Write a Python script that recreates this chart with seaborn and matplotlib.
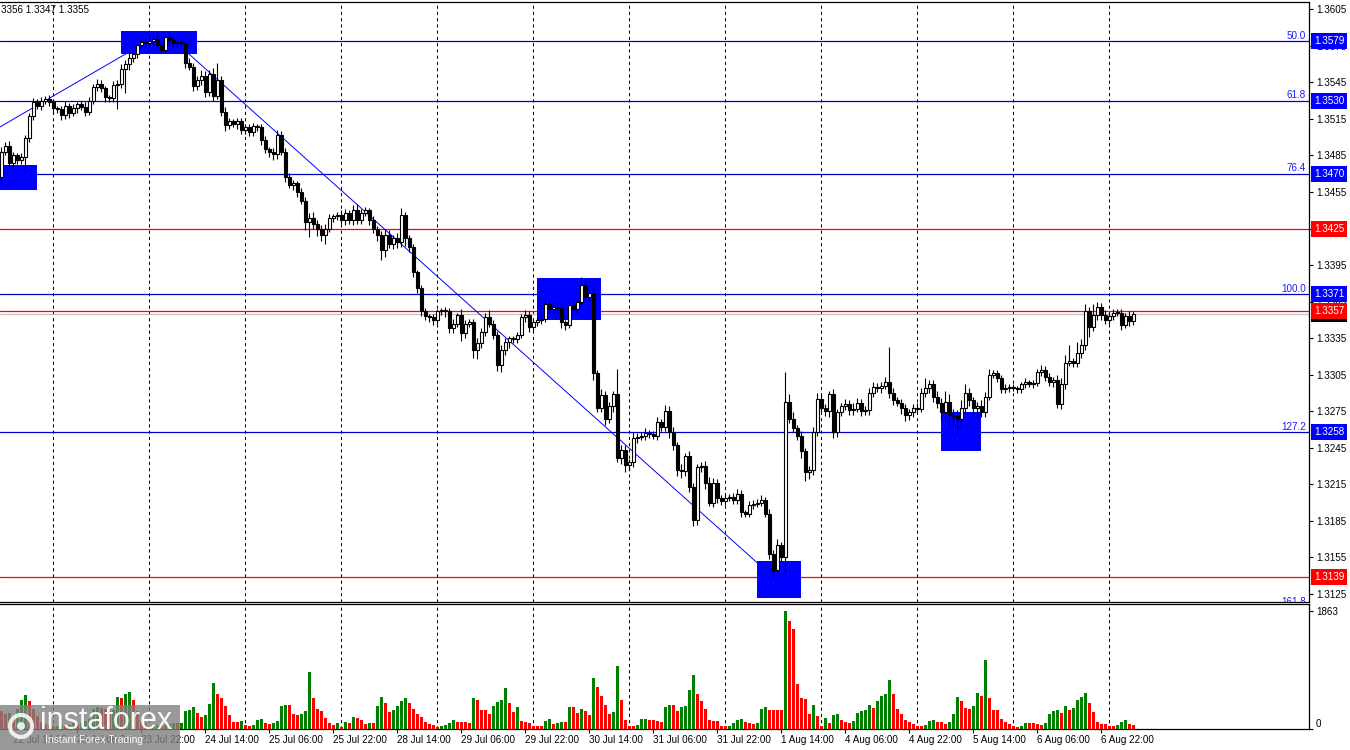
import numpy as np
import pandas as pd
import seaborn as sns
import matplotlib
matplotlib.use("Agg")
import matplotlib.pyplot as plt
from matplotlib.patches import Rectangle, Circle
from matplotlib.transforms import IdentityTransform

# === GBPUSD H1 candles ===
first_open = 1.3467
closes = [
    1.3488, 1.3493, 1.3479, 1.3485, 1.3481, 1.3484, 1.3499, 1.3517, 1.3529, 1.3526, 1.3530, 1.3531,
    1.3529, 1.3524, 1.3523, 1.3518, 1.3526, 1.3520, 1.3524, 1.3527, 1.3525, 1.3521, 1.3530, 1.3541,
    1.3544, 1.3540, 1.3533, 1.3532, 1.3543, 1.3544, 1.3556, 1.3560, 1.3565, 1.3568, 1.3576, 1.3578,
    1.3577, 1.3579, 1.3581, 1.3576, 1.3572, 1.3582, 1.3580, 1.3577, 1.3578, 1.3577, 1.3561, 1.3558,
    1.3542, 1.3547, 1.3550, 1.3537, 1.3552, 1.3534, 1.3547, 1.3521, 1.3510, 1.3513, 1.3511, 1.3513,
    1.3506, 1.3508, 1.3504, 1.3509, 1.3508, 1.3498, 1.3490, 1.3488, 1.3486, 1.3502, 1.3488, 1.3467,
    1.3461, 1.3462, 1.3455, 1.3448, 1.3430, 1.3434, 1.3429, 1.3425, 1.3420, 1.3425, 1.3434, 1.3435,
    1.3436, 1.3432, 1.3438, 1.3432, 1.3440, 1.3432, 1.3438, 1.3440, 1.3432, 1.3425, 1.3420, 1.3407,
    1.3420, 1.3412, 1.3417, 1.3414, 1.3436, 1.3417, 1.3410, 1.3389, 1.3376, 1.3357, 1.3353, 1.3352,
    1.3350, 1.3357, 1.3358, 1.3357, 1.3343, 1.3347, 1.3354, 1.3339, 1.3347, 1.3348, 1.3325, 1.3331,
    1.3340, 1.3352, 1.3347, 1.3338, 1.3313, 1.3325, 1.3332, 1.3335, 1.3334, 1.3338, 1.3352, 1.3354,
    1.3344, 1.3348, 1.3350, 1.3351, 1.3363, 1.3359, 1.3361, 1.3360, 1.3348, 1.3346, 1.3362, 1.3359,
    1.3365, 1.3379, 1.3369, 1.3372, 1.3306, 1.3278, 1.3288, 1.3269, 1.3279, 1.3289, 1.3237, 1.3243,
    1.3231, 1.3233, 1.3253, 1.3254, 1.3255, 1.3257, 1.3256, 1.3255, 1.3266, 1.3262, 1.3275, 1.3258,
    1.3247, 1.3227, 1.3226, 1.3238, 1.3213, 1.3186, 1.3229, 1.3230, 1.3216, 1.3200, 1.3216, 1.3204,
    1.3201, 1.3204, 1.3205, 1.3202, 1.3207, 1.3192, 1.3191, 1.3198, 1.3199, 1.3200, 1.3202, 1.3191,
    1.3158, 1.3145, 1.3165, 1.3155, 1.3283, 1.3269, 1.3261, 1.3255, 1.3242, 1.3225, 1.3227, 1.3258,
    1.3285, 1.3278, 1.3275, 1.3289, 1.3258, 1.3274, 1.3279, 1.3281, 1.3276, 1.3277, 1.3282, 1.3275,
    1.3276, 1.3290, 1.3295, 1.3294, 1.3296, 1.3299, 1.3290, 1.3284, 1.3282, 1.3278, 1.3272, 1.3274,
    1.3278, 1.3277, 1.3290, 1.3294, 1.3297, 1.3287, 1.3282, 1.3274, 1.3283, 1.3272, 1.3271, 1.3269,
    1.3278, 1.3290, 1.3284, 1.3278, 1.3279, 1.3274, 1.3287, 1.3305, 1.3306, 1.3302, 1.3293, 1.3294,
    1.3295, 1.3294, 1.3293, 1.3297, 1.3299, 1.3297, 1.3298, 1.3307, 1.3309, 1.3303, 1.3299, 1.3301,
    1.3281, 1.3297, 1.3315, 1.3316, 1.3315, 1.3323, 1.3329, 1.3357, 1.3344, 1.3354, 1.3361, 1.3354,
    1.3350, 1.3353, 1.3356, 1.3356, 1.3346, 1.3353, 1.3349, 1.3355,
]
# wick lengths in pips above / below the candle body
wick_up = [
    4, 3, 4, 3, 2, 3, 3, 3, 3, 2, 3, 3,   4, 2, 2, 3, 4, 2, 3, 2, 3, 4, 3, 3,
    4, 3, 2, 2, 3, 3, 4, 3, 5, 3, 4, 3,   3, 4, 3, 5, 2, 3, 4, 2, 2, 3, 2, 4,
    3, 3, 5, 4, 3, 5, 14, 3, 4, 3, 2, 3,  3, 2, 3, 3, 2, 3, 3, 2, 3, 4, 3, 3,
    4, 3, 2, 3, 3, 4, 5, 3, 3, 4, 3, 2,   3, 4, 3, 2, 4, 5, 3, 3, 2, 3, 2, 3,
    5, 4, 3, 4, 6, 3, 3, 2, 2, 3, 3, 2,   3, 2, 2, 3, 3, 4, 2, 5, 3, 3, 3, 4,
    3, 4, 6, 3, 3, 4, 3, 2, 2, 2, 3, 4,   3, 2, 2, 3, 4, 3, 3, 4, 2, 2, 4, 4,
    3, 6, 4, 3, 4, 3, 5, 4, 4, 3, 21, 4,  4, 3, 5, 3, 3, 4, 3, 3, 4, 3, 5, 4,
    4, 3, 5, 3, 4, 3, 3, 3, 4, 5, 4, 3,   2, 3, 2, 3, 4, 3, 2, 3, 3, 3, 4, 3,
    4, 3, 5, 3, 24, 6, 5, 3, 4, 3, 3, 4,  5, 4, 3, 3, 4, 3, 3, 4, 3, 5, 4, 3,
    3, 4, 4, 3, 3, 4, 29, 4, 3, 3, 3, 3,  3, 4, 4, 8, 4, 4, 5, 4, 9, 6, 5, 5,
    6, 7, 4, 3, 4, 5, 4, 5, 3, 3, 3, 3,   2, 2, 2, 2, 3, 2, 3, 3, 4, 3, 3, 2,
    4, 5, 6, 13, 3, 9, 5, 6, 4, 9, 4, 3,  4, 3, 3, 3, 3, 3, 4, 2,
]
wick_dn = [
    5, 3, 4, 4, 3, 3, 12, 3, 3, 3, 4, 3,  3, 4, 3, 4, 3, 4, 3, 4, 3, 4, 3, 3,
    3, 3, 4, 3, 3, 20, 4, 20, 5, 3, 3, 3, 3, 3, 4, 3, 3, 3, 4, 3, 3, 2, 4, 3,
    4, 3, 4, 4, 3, 4, 3, 4, 5, 3, 3, 4,   3, 3, 3, 3, 3, 4, 3, 4, 5, 4, 3, 4,
    3, 4, 4, 3, 6, 12, 4, 6, 5, 8, 3, 4,  3, 3, 4, 3, 4, 3, 3, 3, 4, 4, 5, 8,
    5, 3, 4, 5, 4, 6, 4, 4, 4, 4, 3, 4,   4, 3, 3, 5, 4, 4, 3, 6, 4, 3, 6, 7,
    4, 3, 3, 4, 5, 6, 4, 5, 3, 3, 3, 4,   4, 3, 3, 3, 3, 4, 3, 4, 5, 4, 3, 4,
    3, 3, 3, 3, 5, 4, 4, 5, 4, 5, 4, 5,   6, 4, 4, 4, 3, 4, 3, 3, 4, 3, 3, 5,
    4, 5, 6, 4, 4, 5, 4, 4, 5, 3, 4, 4,   3, 3, 3, 3, 3, 4, 3, 3, 3, 3, 3, 3,
    4, 6, 4, 4, 12, 4, 3, 4, 5, 7, 6, 4,  3, 4, 4, 5, 5, 4, 3, 3, 4, 4, 3, 4,
    3, 4, 3, 3, 4, 3, 4, 4, 3, 5, 5, 4,   4, 3, 3, 3, 4, 4, 4, 6, 6, 10, 8, 12,
    7, 5, 5, 7, 9, 4, 4, 3, 3, 3, 3, 3,   3, 2, 3, 3, 3, 2, 3, 2, 3, 3, 3, 4,
    3, 4, 4, 3, 4, 4, 4, 4, 8, 3, 4, 4,   3, 3, 3, 3, 4, 3, 4, 3,
]
volumes = [
    290, 230, 250, 210, 320, 460, 530, 450, 320, 210, 106, 80,
    60, 40, 50, 60, 55, 70, 90, 80, 100, 120, 160, 320,
    340, 330, 320, 280, 300, 500, 488, 556, 578, 460, 290, 130,
    100, 40, 53, 64, 60, 70, 85, 90, 88, 95, 290, 307,
    340, 250, 185, 228, 392, 720, 546, 482, 371, 228, 117, 110,
    122, 64, 53, 69, 143, 164, 100, 74, 100, 132, 371, 382,
    380, 244, 222, 244, 291, 896, 482, 323, 286, 180, 95, 69,
    95, 37, 117, 100, 196, 180, 148, 85, 100, 100, 371, 498,
    403, 276, 307, 371, 450, 482, 403, 323, 244, 196, 117, 85,
    69, 37, 53, 69, 100, 148, 117, 117, 115, 100, 482, 466,
    307, 305, 244, 371, 419, 466, 641, 403, 276, 355, 133, 117,
    100, 53, 53, 50, 132, 164, 80, 100, 117, 117, 340, 340,
    260, 323, 290, 228, 800, 657, 514, 387, 244, 276, 991, 466,
    148, 53, 48, 64, 164, 165, 148, 148, 132, 117, 355, 387,
    385, 291, 355, 371, 610, 848, 546, 435, 323, 148, 132, 130,
    53, 45, 53, 100, 148, 164, 117, 100, 85, 100, 323, 355,
    307, 305, 303, 300, 1863, 1707, 1579, 705, 482, 472, 244, 387,
    212, 53, 180, 100, 228, 230, 148, 117, 100, 132, 260, 291,
    307, 387, 339, 435, 514, 546, 768, 546, 323, 244, 148, 117,
    85, 53, 50, 69, 132, 148, 117, 115, 85, 117, 244, 498,
    450, 339, 323, 371, 562, 514, 1087, 482, 307, 305, 164, 117,
    85, 53, 37, 53, 100, 100, 98, 85, 69, 100, 244, 291,
    307, 260, 371, 307, 339, 466, 498, 562, 403, 276, 117, 85,
    83, 53, 50, 69, 117, 148, 85, 69,
]

# === Levels and objects drawn on the chart ===
fib_names = ["50.0", "61.8", "76.4", "100.0", "127.2", "161.8"]
fib_prices = [1.3579, 1.3530, 1.3470, 1.3371, 1.3258, 1.3114]
red_prices = [1.3425, 1.3357, 1.3139]
bid_price = 1.3355
price_ticks = [1.3605, 1.3575, 1.3545, 1.3515, 1.3485, 1.3455, 1.3425, 1.3395, 1.3365,
               1.3335, 1.3305, 1.3275, 1.3245, 1.3215, 1.3185, 1.3155, 1.3125]
vol_ticks = [0, 1863]
x_labels = ["22 Jul 14:00", "23 Jul 06:00", "23 Jul 22:00", "24 Jul 14:00", "25 Jul 06:00",
            "25 Jul 22:00", "28 Jul 14:00", "29 Jul 06:00", "29 Jul 22:00", "30 Jul 14:00",
            "31 Jul 06:00", "31 Jul 22:00", "1 Aug 14:00", "4 Aug 06:00", "4 Aug 22:00",
            "5 Aug 14:00", "6 Aug 06:00", "6 Aug 22:00"]
header = "3356 1.3347 1.3355"

# blue rectangles: first bar, last bar, top price, bottom price
box_start = [-1, 30, 134, 189, 235]
box_end = [9, 49, 150, 200, 245]
box_top = [1.3477, 1.3587, 1.3384, 1.3152, 1.3274]
box_bottom = [1.3457, 1.3568, 1.3350, 1.3122, 1.3242]

# thin trend lines (bar, price) pairs
trend_bars = [[-1, 31.5], [46.75, 193]]
trend_prices = [[1.3507, 1.3569], [1.3569, 1.3139]]

# === Derived series ===
times = pd.date_range("2025-07-22 11:00", "2025-08-07 06:00", freq="h")
times = times[times.dayofweek < 5]
n = len(closes)
bars = np.arange(n)
c = np.array(closes)
o = np.r_[first_open, c[:-1]]
body_top = np.maximum(o, c)
body_bot = np.minimum(o, c)
hi = body_top + np.array(wick_up) * 1e-4
lo = body_bot - np.array(wick_dn) * 1e-4

vol = np.array(volumes)
vol_dir = np.where(np.r_[False, vol[1:] > vol[:-1]], "up", "down")
vol_df = pd.DataFrame({"bar": bars, "volume": vol, "dir": vol_dir})

bar_names = [f"{t.day} {t:%b %H:%M}" for t in times]
label_idx = [bar_names.index(s) for s in x_labels]
grid_idx = [i for i, t in enumerate(times) if t.hour == 0]

# === Figure ===
sns.set_style("white")
plt.rcParams["font.family"] = ["Liberation Sans", "DejaVu Sans"]
plt.rcParams["text.color"] = "black"

W, H = 1350, 750
fs = 7.1
fig = plt.figure(figsize=(W / 100, H / 100), dpi=100)
ax = fig.add_axes([0, 1 - 602 / H, 1309 / W, 600 / H])
ax_v = fig.add_axes([0, 1 - 729 / H, 1309 / W, 125 / H])
x_lim = (-0.25, 327)

# --- price pane ---
for i in grid_idx:
    ax.axvline(i, color="black", lw=0.75, ls=(0, (3, 3)), zorder=1)
for p in fib_prices:
    ax.axhline(p, color="#0000cd", lw=0.9, zorder=2)
ax.axhline(bid_price, color="#c0c0c0", lw=0.9, zorder=2)
for p in red_prices:
    ax.axhline(p, color="#ff0000", lw=0.9, zorder=2)
for s, e, t, b in zip(box_start, box_end, box_top, box_bottom):
    ax.add_patch(Rectangle((s, b), e - s, t - b, fc="#0000ff", ec="none", zorder=3))
for xs, ys in zip(trend_bars, trend_prices):
    ax.plot(xs, ys, color="#0000ff", lw=0.7, zorder=3)

ax.vlines(bars, lo, hi, color="black", lw=0.8, zorder=4)
ax.bar(bars, np.maximum(body_top - body_bot, 5e-5), bottom=body_bot, width=0.75,
       color=np.where(c >= o, "white", "black"), edgecolor="black", linewidth=0.8, zorder=5)

ax.set_xlim(*x_lim)
ax.set_ylim(1.31184, 1.36110)
ax.yaxis.tick_right()
ax.set_yticks(price_ticks, labels=[f"{p:.4f}" for p in price_ticks])
ax.tick_params(axis="y", direction="out", length=3, width=0.8, labelsize=fs, pad=2,
               colors="black", right=True, left=False)
ax.tick_params(axis="x", bottom=False, labelbottom=False)

lab_tr = ax.get_yaxis_transform()
box_x = 1 + 5 / 1309
box_style = dict(boxstyle="square,pad=0.3", ec="none")
ax.text(box_x, bid_price, f"{bid_price:.4f}", transform=lab_tr, ha="left", va="center",
        fontsize=fs, color="white", bbox=dict(fc="black", **box_style), clip_on=False, zorder=6)
for name, p in zip(fib_names, fib_prices):
    ax.text(1 - 3 / 1309, p + 0.00003, name, transform=lab_tr, ha="right", va="bottom",
            fontsize=fs, color="#1a1aff", clip_on=True, zorder=6)
    if p > 1.31184:
        ax.text(box_x, p, f"{p:.4f}", transform=lab_tr, ha="left", va="center", fontsize=fs,
                color="white", bbox=dict(fc="#0000ff", **box_style), clip_on=False, zorder=7)
for p in red_prices:
    ax.text(box_x, p, f"{p:.4f}", transform=lab_tr, ha="left", va="center", fontsize=fs,
            color="white", bbox=dict(fc="#ff0000", **box_style), clip_on=False, zorder=7)

ax.text(0.0008, 1 - 8 / 600, header, transform=ax.transAxes, ha="left", va="center",
        fontsize=fs, color="black", zorder=8)

# --- volume pane ---
sns.barplot(data=vol_df, x="bar", y="volume", hue="dir",
            palette={"up": "#008000", "down": "#ff0000"}, dodge=False, width=0.75,
            saturation=1, errorbar=None, legend=False, linewidth=0, ax=ax_v, zorder=3)
for i in grid_idx:
    ax_v.axvline(i, color="black", lw=0.75, ls=(0, (3, 3)), zorder=1)
ax_v.set_xlim(*x_lim)
ax_v.set_ylim(0, 1975)
ax_v.set_xlabel("")
ax_v.set_ylabel("")
ax_v.yaxis.tick_right()
ax_v.set_yticks(vol_ticks, labels=[str(v) for v in vol_ticks])
ax_v.get_yticklabels()[0].set_va("bottom")
ax_v.tick_params(axis="y", direction="out", length=3, width=0.8, labelsize=fs, pad=2,
                 colors="black", right=True, left=False)
ax_v.set_xticks(label_idx, labels=x_labels)
ax_v.tick_params(axis="x", direction="out", length=3, width=0.8, labelsize=fs, pad=1.5,
                 colors="black", bottom=True)
for t in ax_v.get_xticklabels():
    t.set_ha("left")

for a in (ax, ax_v):
    a.grid(False)
    a.spines["left"].set_visible(False)
    for side in ("top", "right", "bottom"):
        a.spines[side].set_color("black")
        a.spines[side].set_linewidth(0.9)

# --- watermark logo, bottom left ---
fig.patches.append(Rectangle((0, 0), 180 / W, 45 / H, transform=fig.transFigure,
                             fc="#808080", ec="none", alpha=0.8, zorder=10))
fig.add_artist(Circle((21, 24), 11, transform=IdentityTransform(), fc="none", ec="white",
                      lw=3, alpha=0.85, zorder=11))
fig.add_artist(Circle((21, 24), 4, transform=IdentityTransform(), fc="white", ec="none",
                      alpha=0.85, zorder=11))
fig.text(40 / W, 29 / H, "instaforex", fontsize=22, color="white", ha="left", va="center",
         alpha=0.95, zorder=11)
fig.text(45 / W, 10 / H, "Instant Forex Trading", fontsize=7.5, color="white", ha="left",
         va="center", alpha=0.95, zorder=11)

fig.savefig("out.png", dpi=100)
